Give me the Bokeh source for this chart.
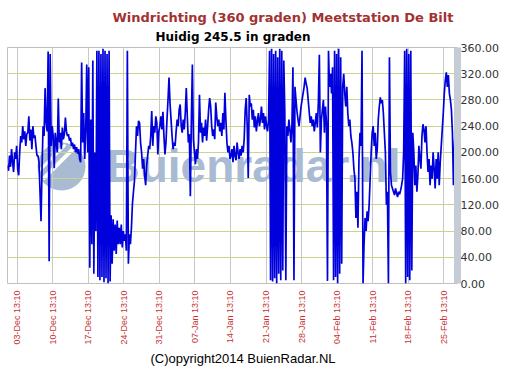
import numpy as np
from bokeh.plotting import figure
from bokeh.models import FixedTicker, NumeralTickFormatter, Label, LinearAxis, Title
from bokeh.embed import file_html
from bokeh.resources import INLINE

title_text = "Windrichting (360 graden) Meetstation De Bilt"
subtitle_text = "Huidig 245.5 in graden"
copyright_text = "(C)opyright2014 BuienRadar.NL"
watermark_text = "Buienradar.nl"

# samples: days relative to 03-Dec 13:10, one every 0.2 day
start_day = -1.9
step_day = 0.2
direction = [
    180, 172, 195, 178, 205, 185, 170, 200, 190, 210,
    175, 165, 200, 225, 215, 240, 220, 232, 210, 228,
    230, 255, 218, 235, 205, 240, 222, 226, 210, 195,
    195, 185, 140, 95, 175, 240, 225, 298, 245, 232,
    354, 34, 350, 210, 240, 225, 176, 230, 215, 200,
    282, 215, 230, 205, 238, 220, 228, 253, 232, 225,
    228, 218, 222, 210, 215, 205, 212, 200, 208, 198,
    205, 190, 185, 337, 215, 260, 190, 230, 334, 200,
    330, 24, 250, 60, 340, 15, 200, 80, 355, 10,
    355, 5, 350, 10, 358, 2, 355, 8, 350, 0,
    355, 3, 104, 30, 98, 50, 90, 45, 96, 60,
    85, 60, 90, 55, 80, 65, 75, 50, 355, 30,
    75, 60, 85, 122, 140, 157, 200, 240, 225, 248,
    245, 215, 200, 175, 190, 165, 150, 180, 195, 210,
    205, 225, 263, 210, 240, 230, 255, 245, 197, 232,
    240, 255, 235, 262, 225, 197, 215, 250, 280, 314,
    275, 250, 225, 205, 215, 210, 232, 250, 240, 265,
    273, 240, 230, 250, 235, 260, 298, 255, 215, 228,
    133, 250, 334, 220, 200, 182, 205, 190, 215, 288,
    230, 245, 215, 238, 225, 250, 218, 240, 265, 283,
    270, 240, 225, 235, 220, 276, 255, 240, 250, 232,
    245, 225, 260, 235, 291, 250, 215, 200, 210, 190,
    195, 205, 185, 210, 195, 188, 215, 200, 190, 205,
    195, 210, 200, 220, 265, 283, 240, 161, 288, 270,
    275, 250, 265, 238, 255, 232, 248, 260, 240, 250,
    270, 245, 260, 235, 255, 240, 232, 250, 355, 5,
    358, 3, 350, 8, 355, 0, 345, 15, 358, 5,
    355, 20, 340, 260, 5, 240, 225, 250, 235, 215,
    240, 330, 5, 300, 280, 262, 250, 240, 255, 270,
    280, 290, 300, 314, 305, 298, 280, 262, 245, 255,
    240, 250, 232, 245, 260, 238, 275, 349, 200, 250,
    265, 280, 230, 270, 245, 4, 355, 300, 320, 290,
    330, 5, 355, 10, 350, 0, 358, 15, 345, 30,
    300, 320, 290, 270, 300, 260, 240, 250, 225, 215,
    200, 175, 160, 100, 140, 85, 190, 230, 210, 355,
    0, 60, 100, 80, 110, 95, 120, 160, 200, 230,
    240, 210, 230, 190, 205, 250, 270, 284, 275, 280,
    260, 230, 200, 120, 140, 0, 345, 170, 150, 145,
    140, 135, 145, 138, 132, 140, 136, 142, 150, 160,
    200, 355, 0, 358, 10, 350, 5, 355, 20, 230,
    200, 150, 180, 140, 165, 210, 190, 175, 225, 243,
    235, 215, 240, 200, 170, 190, 150, 180, 160, 200,
    175, 145, 190, 160, 200, 150, 185, 210, 235, 260,
    290, 310, 322, 300, 318, 290, 280, 265, 230, 150,
    210, 248, 228, 245.5,
]

tick_days = [0, 7, 14, 21, 28, 35, 42, 49, 56, 63, 70, 77, 84]
tick_labels = ["03-Dec 13:10", "10-Dec 13:10", "17-Dec 13:10", "24-Dec 13:10",
               "31-Dec 13:10", "07-Jan 13:10", "14-Jan 13:10", "21-Jan 13:10",
               "28-Jan 13:10", "04-Feb 13:10", "11-Feb 13:10", "18-Feb 13:10",
               "25-Feb 13:10"]
y_ticks = [0, 40, 80, 120, 160, 200, 240, 280, 320, 360]

days = [start_day + step_day * i for i in range(len(direction))]

X0, X1 = -1.9, 86.7
FL, FT = 7, 47          # frame left/top in figure pixels
FW, FH = 450, 236


def px_x(px):
    return X0 + (px - FL) / FW * (X1 - X0)


def px_y(py):
    return (FT + FH - py) / FH * 360.0


p = figure(frame_width=FW, frame_height=FH, x_range=(X0, X1), y_range=(0, 360),
           output_backend="svg", toolbar_location=None, y_axis_location="right",
           min_border_left=FL, min_border_right=55, min_border_top=FT,
           min_border_bottom=81)
p.background_fill_color = "white"
p.border_fill_color = "white"
p.outline_line_color = "#c0c0c0"

# main title + subtitle
p.title.text = title_text
p.title.align = "left"
p.title.offset = 112 - FL
p.title.text_font = "DejaVu Sans"
p.title.text_font_style = "bold"
p.title.text_font_size = "13px"
p.title.text_color = "#a23232"
p.title.standoff = 0
p.add_layout(Title(text=subtitle_text, align="left", offset=155 - FL,
                   text_font="DejaVu Sans", text_font_style="bold",
                   text_font_size="12px", text_color="black", standoff=7), "above")

# x axis
p.xaxis.ticker = FixedTicker(ticks=tick_days)
p.xaxis.major_label_overrides = {d: l for d, l in zip(tick_days, tick_labels)}
p.xaxis.major_label_orientation = np.pi / 2
p.xaxis.major_tick_line_color = None
p.xaxis.major_tick_out = 0
p.xaxis.major_tick_in = 0
p.xaxis.minor_tick_line_color = None
p.xaxis.axis_line_color = None
p.xaxis.major_label_text_color = "#c83232"
p.xaxis.major_label_text_font = "Liberation Sans"
p.xaxis.major_label_text_font_size = "9px"
p.xaxis.major_label_standoff = 7

# copyright below
p.add_layout(Title(text=copyright_text, align="left", offset=150 - FL,
                   text_font="Liberation Sans", text_font_style="normal",
                   text_font_size="13px", text_color="black", standoff=3), "below")

# spacer axis on the right (no labels), then labelled axis whose line is the shadow
spacer = p.yaxis[0]
spacer.ticker = FixedTicker(ticks=[])
spacer.major_tick_out = 8
spacer.major_tick_in = 0
spacer.major_tick_line_color = None
spacer.minor_tick_line_color = None
spacer.minor_tick_out = 0
spacer.axis_line_color = None
spacer.major_label_text_font_size = "0px"
spacer.major_label_standoff = 0

yax = LinearAxis(ticker=FixedTicker(ticks=y_ticks),
                 formatter=NumeralTickFormatter(format="0.00"))
yax.major_tick_line_color = None
yax.major_tick_out = 0
yax.major_tick_in = 0
yax.minor_tick_line_color = None
yax.axis_line_color = "#c5ccd6"
yax.axis_line_width = 7
yax.major_label_text_font = "DejaVu Sans"
yax.major_label_text_font_size = "11px"
yax.major_label_text_color = "#333333"
yax.major_label_standoff = 3
p.add_layout(yax, "right")

p.xgrid.grid_line_color = "#c8c8c8"
p.ygrid.ticker = FixedTicker(ticks=y_ticks)
p.ygrid.grid_line_color = "#c8d68c"

# watermark (logo disc with two white stripes, and the site name)
p.scatter(x=[px_x(61)], y=[px_y(166)], size=48, fill_color="#a9bad3",
          line_color=None, level="underlay")
p.scatter(x=[px_x(58), px_x(52)], y=[px_y(163), px_y(157)], marker="dash",
          size=[44, 36], angle=np.pi / 4, line_color="white",
          line_width=[4, 3], level="underlay")
p.add_layout(Label(x=px_x(106), y=px_y(165), text=watermark_text,
                   text_font="Liberation Sans", text_font_style="bold",
                   text_font_size="46px", text_color="#a9bad3",
                   text_baseline="alphabetic", level="underlay"))

p.line(days, direction, line_color="#0000dd", line_width=1.7)

open("out.html", "w").write(file_html(p, INLINE))
